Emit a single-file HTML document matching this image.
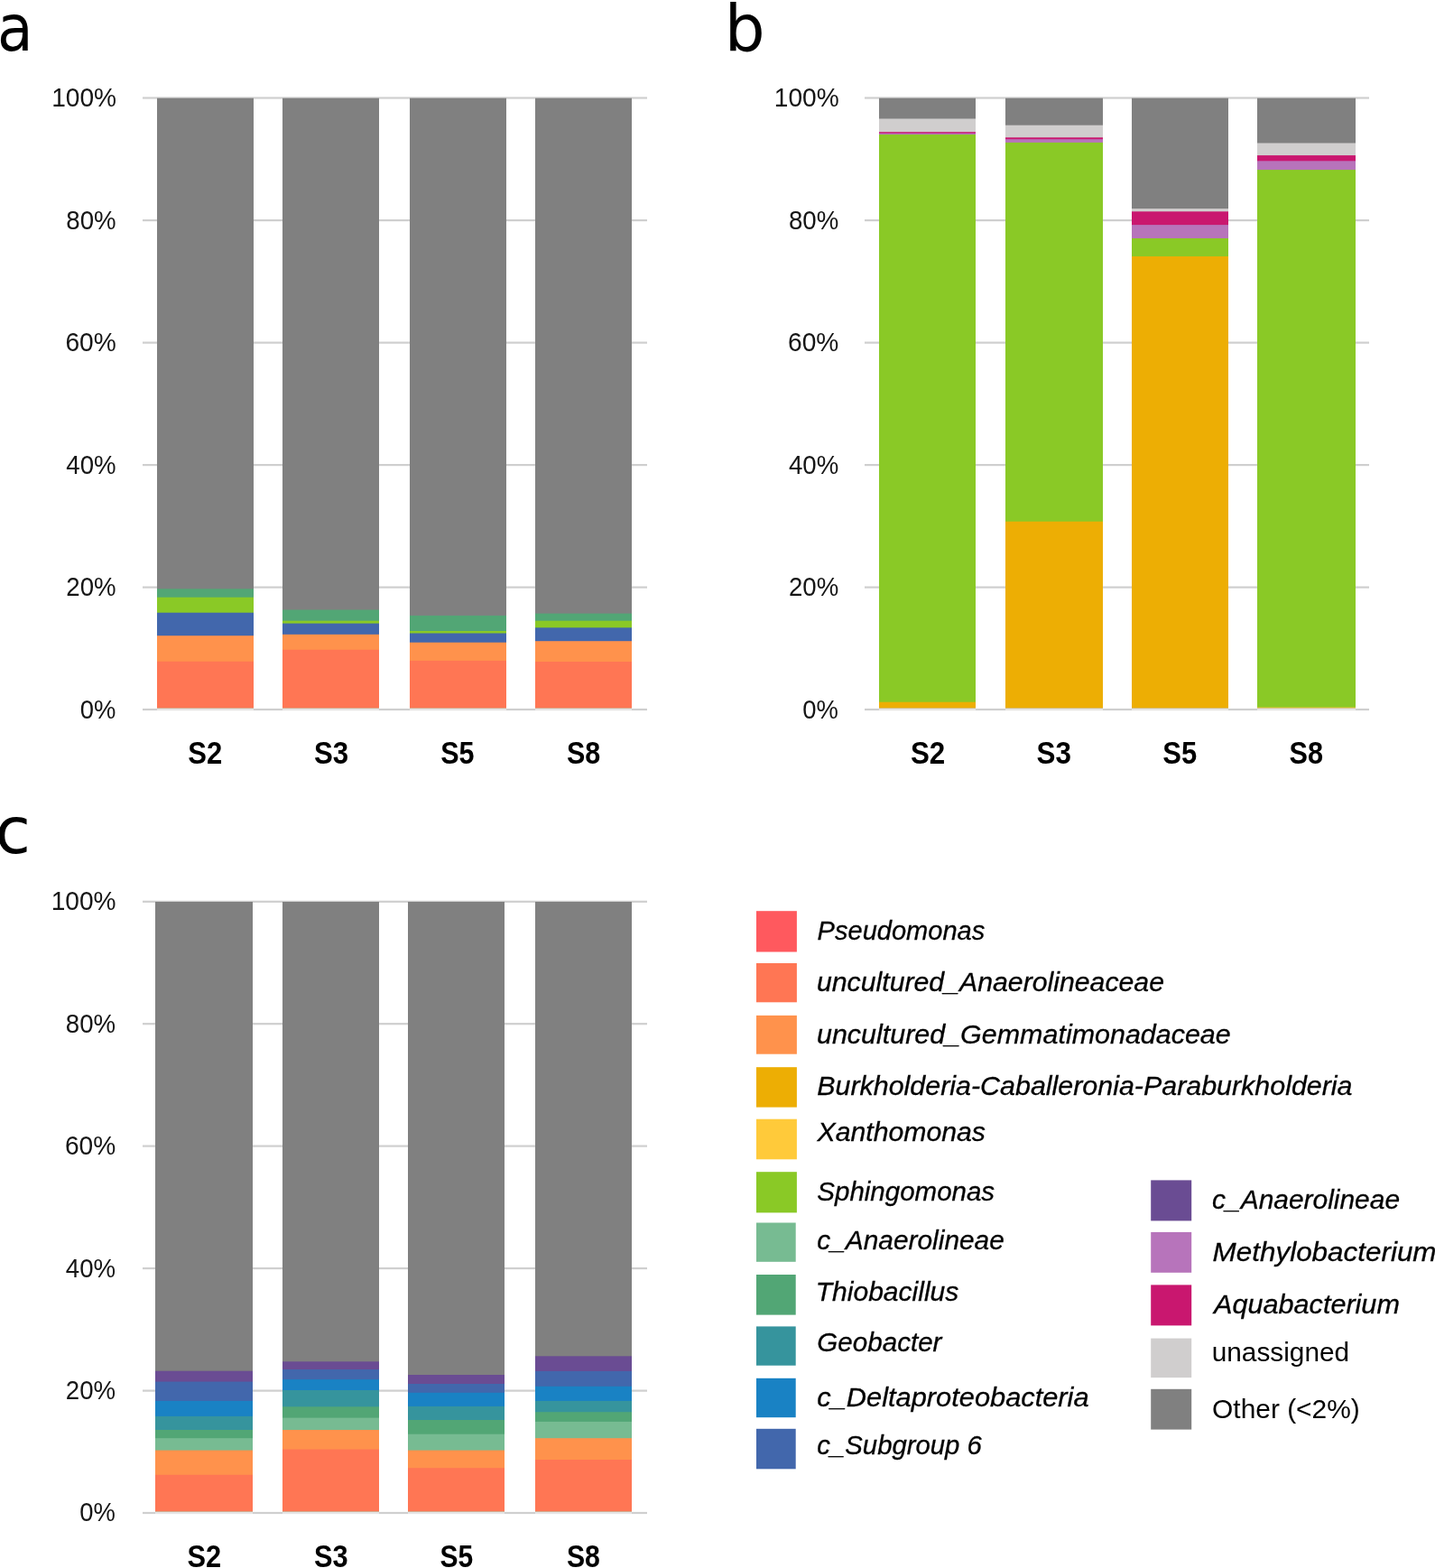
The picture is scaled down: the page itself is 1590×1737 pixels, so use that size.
<!DOCTYPE html>
<html lang="en">
<head>
<meta charset="utf-8">
<title>Relative abundance of bacterial genera (S2, S3, S5, S8)</title>
<style>
html, body { margin: 0; padding: 0; background: #ffffff; }
body { width: 1590px; height: 1737px; overflow: hidden; }
svg { display: block; }
text { font-family: "Liberation Sans", sans-serif; }
text.dj { font-family: "DejaVu Sans", sans-serif; }
</style>
</head>
<body>
<svg width="1590" height="1737" viewBox="0 0 1590 1737" role="img" aria-label="Stacked bar charts a, b and c of relative abundance for samples S2, S3, S5 and S8, with legend">
<rect x="0" y="0" width="1590" height="1737" fill="#ffffff"/>
<rect x="158.0" y="107.4" width="559.0" height="2.2" fill="#CFCFCF"/>
<rect x="158.0" y="243.0" width="559.0" height="2.2" fill="#CFCFCF"/>
<rect x="158.0" y="378.5" width="559.0" height="2.2" fill="#CFCFCF"/>
<rect x="158.0" y="514.0" width="559.0" height="2.2" fill="#CFCFCF"/>
<rect x="158.0" y="649.5" width="559.0" height="2.2" fill="#CFCFCF"/>
<rect x="158.0" y="784.9" width="559.0" height="2.2" fill="#CFCFCF"/>
<rect x="174.0" y="108.7" width="107.0" height="675.7" fill="#808080"/>
<rect x="174.0" y="652.3" width="107.0" height="132.1" fill="#52A675"/>
<rect x="174.0" y="661.7" width="107.0" height="122.7" fill="#8AC926"/>
<rect x="174.0" y="678.7" width="107.0" height="105.7" fill="#4267AC"/>
<rect x="174.0" y="704.2" width="107.0" height="80.2" fill="#FF924C"/>
<rect x="174.0" y="732.8" width="107.0" height="51.6" fill="#FF7654"/>
<rect x="174" y="784.4" width="107" height="3.2" fill="#ffffff" fill-opacity="0.45"/>
<rect x="313.0" y="108.7" width="107.0" height="675.7" fill="#808080"/>
<rect x="313.0" y="675.5" width="107.0" height="108.9" fill="#52A675"/>
<rect x="313.0" y="687.7" width="107.0" height="96.7" fill="#8AC926"/>
<rect x="313.0" y="690.6" width="107.0" height="93.8" fill="#4267AC"/>
<rect x="313.0" y="702.8" width="107.0" height="81.6" fill="#FF924C"/>
<rect x="313.0" y="719.8" width="107.0" height="64.6" fill="#FF7654"/>
<rect x="313" y="784.4" width="107" height="3.2" fill="#ffffff" fill-opacity="0.45"/>
<rect x="454.0" y="108.7" width="107.0" height="675.7" fill="#808080"/>
<rect x="454.0" y="681.9" width="107.0" height="102.5" fill="#52A675"/>
<rect x="454.0" y="699.0" width="107.0" height="85.4" fill="#8AC926"/>
<rect x="454.0" y="701.5" width="107.0" height="82.9" fill="#4267AC"/>
<rect x="454.0" y="711.7" width="107.0" height="72.7" fill="#FF924C"/>
<rect x="454.0" y="731.9" width="107.0" height="52.5" fill="#FF7654"/>
<rect x="454" y="784.4" width="107" height="3.2" fill="#ffffff" fill-opacity="0.45"/>
<rect x="593.0" y="108.7" width="107.0" height="675.7" fill="#808080"/>
<rect x="593.0" y="679.6" width="107.0" height="104.8" fill="#52A675"/>
<rect x="593.0" y="687.7" width="107.0" height="96.7" fill="#8AC926"/>
<rect x="593.0" y="695.3" width="107.0" height="89.1" fill="#4267AC"/>
<rect x="593.0" y="710.2" width="107.0" height="74.2" fill="#FF924C"/>
<rect x="593.0" y="733.0" width="107.0" height="51.4" fill="#FF7654"/>
<rect x="593" y="784.4" width="107" height="3.2" fill="#ffffff" fill-opacity="0.45"/>
<rect x="958.0" y="107.4" width="559.0" height="2.2" fill="#CFCFCF"/>
<rect x="958.0" y="243.0" width="559.0" height="2.2" fill="#CFCFCF"/>
<rect x="958.0" y="378.5" width="559.0" height="2.2" fill="#CFCFCF"/>
<rect x="958.0" y="514.0" width="559.0" height="2.2" fill="#CFCFCF"/>
<rect x="958.0" y="649.5" width="559.0" height="2.2" fill="#CFCFCF"/>
<rect x="958.0" y="784.9" width="559.0" height="2.2" fill="#CFCFCF"/>
<rect x="974.0" y="108.7" width="107.0" height="675.7" fill="#808080"/>
<rect x="974.0" y="131.5" width="107.0" height="652.9" fill="#D0CECE"/>
<rect x="974.0" y="146.2" width="107.0" height="638.2" fill="#C9176F"/>
<rect x="974.0" y="147.6" width="107.0" height="636.8" fill="#B774BB"/>
<rect x="974.0" y="149.0" width="107.0" height="635.4" fill="#8AC926"/>
<rect x="974.0" y="777.7" width="107.0" height="6.7" fill="#EDAE04"/>
<rect x="974" y="784.4" width="107" height="3.2" fill="#ffffff" fill-opacity="0.45"/>
<rect x="1114.0" y="108.7" width="108.0" height="675.7" fill="#808080"/>
<rect x="1114.0" y="138.7" width="108.0" height="645.7" fill="#D0CECE"/>
<rect x="1114.0" y="152.3" width="108.0" height="632.1" fill="#C9176F"/>
<rect x="1114.0" y="154.2" width="108.0" height="630.2" fill="#B774BB"/>
<rect x="1114.0" y="157.9" width="108.0" height="626.5" fill="#8AC926"/>
<rect x="1114.0" y="577.7" width="108.0" height="206.7" fill="#EDAE04"/>
<rect x="1114" y="784.4" width="108" height="3.2" fill="#ffffff" fill-opacity="0.45"/>
<rect x="1254.0" y="108.7" width="107.0" height="675.7" fill="#808080"/>
<rect x="1254.0" y="231.1" width="107.0" height="553.3" fill="#D0CECE"/>
<rect x="1254.0" y="234.3" width="107.0" height="550.1" fill="#C9176F"/>
<rect x="1254.0" y="249.1" width="107.0" height="535.3" fill="#B774BB"/>
<rect x="1254.0" y="264.0" width="107.0" height="520.4" fill="#8AC926"/>
<rect x="1254.0" y="284.0" width="107.0" height="500.4" fill="#EDAE04"/>
<rect x="1254" y="784.4" width="107" height="3.2" fill="#ffffff" fill-opacity="0.45"/>
<rect x="1393.0" y="108.7" width="109.0" height="675.7" fill="#808080"/>
<rect x="1393.0" y="158.5" width="109.0" height="625.9" fill="#D0CECE"/>
<rect x="1393.0" y="172.1" width="109.0" height="612.3" fill="#C9176F"/>
<rect x="1393.0" y="178.3" width="109.0" height="606.1" fill="#B774BB"/>
<rect x="1393.0" y="188.1" width="109.0" height="596.3" fill="#8AC926"/>
<rect x="1393.0" y="783.6" width="109.0" height="0.8" fill="#FFCA3A"/>
<rect x="1393" y="784.4" width="109" height="3.2" fill="#ffffff" fill-opacity="0.45"/>
<rect x="158.0" y="997.7" width="559.0" height="2.2" fill="#CFCFCF"/>
<rect x="158.0" y="1133.1" width="559.0" height="2.2" fill="#CFCFCF"/>
<rect x="158.0" y="1268.5" width="559.0" height="2.2" fill="#CFCFCF"/>
<rect x="158.0" y="1404.0" width="559.0" height="2.2" fill="#CFCFCF"/>
<rect x="158.0" y="1539.5" width="559.0" height="2.2" fill="#CFCFCF"/>
<rect x="158.0" y="1674.9" width="559.0" height="2.2" fill="#CFCFCF"/>
<rect x="172.0" y="999.0" width="108.0" height="675.4" fill="#808080"/>
<rect x="172.0" y="1518.7" width="108.0" height="155.7" fill="#6A4C93"/>
<rect x="172.0" y="1530.6" width="108.0" height="143.8" fill="#4267AC"/>
<rect x="172.0" y="1551.9" width="108.0" height="122.5" fill="#1982C4"/>
<rect x="172.0" y="1568.9" width="108.0" height="105.5" fill="#36949D"/>
<rect x="172.0" y="1584.0" width="108.0" height="90.4" fill="#52A675"/>
<rect x="172.0" y="1593.2" width="108.0" height="81.2" fill="#77BB92"/>
<rect x="172.0" y="1606.6" width="108.0" height="67.8" fill="#FF924C"/>
<rect x="172.0" y="1633.8" width="108.0" height="40.6" fill="#FF7654"/>
<rect x="172" y="1674.4" width="108" height="3.2" fill="#ffffff" fill-opacity="0.45"/>
<rect x="313.0" y="999.0" width="107.0" height="675.4" fill="#808080"/>
<rect x="313.0" y="1508.3" width="107.0" height="166.1" fill="#6A4C93"/>
<rect x="313.0" y="1517.0" width="107.0" height="157.4" fill="#4267AC"/>
<rect x="313.0" y="1528.1" width="107.0" height="146.3" fill="#1982C4"/>
<rect x="313.0" y="1540.0" width="107.0" height="134.4" fill="#36949D"/>
<rect x="313.0" y="1558.3" width="107.0" height="116.1" fill="#52A675"/>
<rect x="313.0" y="1570.6" width="107.0" height="103.8" fill="#77BB92"/>
<rect x="313.0" y="1584.0" width="107.0" height="90.4" fill="#FF924C"/>
<rect x="313.0" y="1605.5" width="107.0" height="68.9" fill="#FF7654"/>
<rect x="313" y="1674.4" width="107" height="3.2" fill="#ffffff" fill-opacity="0.45"/>
<rect x="452.0" y="999.0" width="107.0" height="675.4" fill="#808080"/>
<rect x="452.0" y="1523.0" width="107.0" height="151.4" fill="#6A4C93"/>
<rect x="452.0" y="1533.0" width="107.0" height="141.4" fill="#4267AC"/>
<rect x="452.0" y="1542.8" width="107.0" height="131.6" fill="#1982C4"/>
<rect x="452.0" y="1557.9" width="107.0" height="116.5" fill="#36949D"/>
<rect x="452.0" y="1573.0" width="107.0" height="101.4" fill="#52A675"/>
<rect x="452.0" y="1588.7" width="107.0" height="85.7" fill="#77BB92"/>
<rect x="452.0" y="1606.6" width="107.0" height="67.8" fill="#FF924C"/>
<rect x="452.0" y="1626.2" width="107.0" height="48.2" fill="#FF7654"/>
<rect x="452" y="1674.4" width="107" height="3.2" fill="#ffffff" fill-opacity="0.45"/>
<rect x="593.0" y="999.0" width="107.0" height="675.4" fill="#808080"/>
<rect x="593.0" y="1502.3" width="107.0" height="172.1" fill="#6A4C93"/>
<rect x="593.0" y="1518.9" width="107.0" height="155.5" fill="#4267AC"/>
<rect x="593.0" y="1535.8" width="107.0" height="138.6" fill="#1982C4"/>
<rect x="593.0" y="1551.9" width="107.0" height="122.5" fill="#36949D"/>
<rect x="593.0" y="1564.2" width="107.0" height="110.2" fill="#52A675"/>
<rect x="593.0" y="1574.9" width="107.0" height="99.5" fill="#77BB92"/>
<rect x="593.0" y="1593.2" width="107.0" height="81.2" fill="#FF924C"/>
<rect x="593.0" y="1617.0" width="107.0" height="57.4" fill="#FF7654"/>
<rect x="593" y="1674.4" width="107" height="3.2" fill="#ffffff" fill-opacity="0.45"/>
<rect x="838.0" y="1009.2" width="44.9" height="45.3" fill="#FF595E"/>
<rect x="838.0" y="1067.0" width="44.9" height="43.3" fill="#FF7654"/>
<rect x="838.0" y="1124.9" width="44.9" height="42.8" fill="#FF924C"/>
<rect x="838.0" y="1182.2" width="44.9" height="44.4" fill="#EDAE04"/>
<rect x="838.0" y="1239.7" width="44.9" height="44.6" fill="#FFCA3A"/>
<rect x="838.0" y="1298.2" width="44.9" height="45.2" fill="#8AC926"/>
<rect x="838.0" y="1354.5" width="43.7" height="43.3" fill="#77BB92"/>
<rect x="838.0" y="1412.0" width="43.7" height="44.6" fill="#52A675"/>
<rect x="838.0" y="1469.4" width="43.7" height="43.3" fill="#36949D"/>
<rect x="838.0" y="1526.8" width="43.7" height="43.4" fill="#1982C4"/>
<rect x="838.0" y="1582.8" width="43.7" height="44.5" fill="#4267AC"/>
<rect x="1275.2" y="1307.4" width="45.0" height="45.0" fill="#6A4C93"/>
<rect x="1275.2" y="1364.9" width="45.0" height="44.9" fill="#B774BB"/>
<rect x="1275.2" y="1423.4" width="45.0" height="45.0" fill="#C9176F"/>
<rect x="1275.2" y="1482.6" width="45.0" height="43.5" fill="#D0CECE"/>
<rect x="1275.2" y="1538.8" width="45.0" height="44.8" fill="#808080"/>
<text x="57.19" y="118.2" font-size="29.5" fill="#151515" textLength="71.89" lengthAdjust="spacingAndGlyphs">100%</text>
<text x="73.36" y="253.8" font-size="29.5" fill="#151515" textLength="55.32" lengthAdjust="spacingAndGlyphs">80%</text>
<text x="72.39" y="389.3" font-size="29.5" fill="#151515" textLength="56.31" lengthAdjust="spacingAndGlyphs">60%</text>
<text x="73.36" y="524.8" font-size="29.5" fill="#151515" textLength="55.32" lengthAdjust="spacingAndGlyphs">40%</text>
<text x="73.36" y="660.3" font-size="29.5" fill="#151515" textLength="55.32" lengthAdjust="spacingAndGlyphs">20%</text>
<text x="88.67" y="795.7" font-size="29.5" fill="#151515" textLength="39.62" lengthAdjust="spacingAndGlyphs">0%</text>
<text x="857.79" y="118.2" font-size="29.5" fill="#151515" textLength="71.89" lengthAdjust="spacingAndGlyphs">100%</text>
<text x="873.96" y="253.8" font-size="29.5" fill="#151515" textLength="55.32" lengthAdjust="spacingAndGlyphs">80%</text>
<text x="872.99" y="389.3" font-size="29.5" fill="#151515" textLength="56.31" lengthAdjust="spacingAndGlyphs">60%</text>
<text x="873.96" y="524.8" font-size="29.5" fill="#151515" textLength="55.32" lengthAdjust="spacingAndGlyphs">40%</text>
<text x="873.96" y="660.3" font-size="29.5" fill="#151515" textLength="55.32" lengthAdjust="spacingAndGlyphs">20%</text>
<text x="889.27" y="795.7" font-size="29.5" fill="#151515" textLength="39.62" lengthAdjust="spacingAndGlyphs">0%</text>
<text x="56.69" y="1008.2" font-size="29.5" fill="#151515" textLength="71.89" lengthAdjust="spacingAndGlyphs">100%</text>
<text x="72.86" y="1143.6" font-size="29.5" fill="#151515" textLength="55.32" lengthAdjust="spacingAndGlyphs">80%</text>
<text x="71.89" y="1279.0" font-size="29.5" fill="#151515" textLength="56.31" lengthAdjust="spacingAndGlyphs">60%</text>
<text x="72.86" y="1414.5" font-size="29.5" fill="#151515" textLength="55.32" lengthAdjust="spacingAndGlyphs">40%</text>
<text x="72.86" y="1550.0" font-size="29.5" fill="#151515" textLength="55.32" lengthAdjust="spacingAndGlyphs">20%</text>
<text x="88.17" y="1685.4" font-size="29.5" fill="#151515" textLength="39.62" lengthAdjust="spacingAndGlyphs">0%</text>
<text x="208.21" y="846.0" font-size="35" font-weight="bold" fill="#000" textLength="38.00" lengthAdjust="spacingAndGlyphs">S2</text>
<text x="347.91" y="846.0" font-size="35" font-weight="bold" fill="#000" textLength="38.21" lengthAdjust="spacingAndGlyphs">S3</text>
<text x="488.23" y="846.0" font-size="35" font-weight="bold" fill="#000" textLength="37.38" lengthAdjust="spacingAndGlyphs">S5</text>
<text x="628.03" y="846.0" font-size="35" font-weight="bold" fill="#000" textLength="37.28" lengthAdjust="spacingAndGlyphs">S8</text>
<text x="1008.90" y="846.0" font-size="35" font-weight="bold" fill="#000" textLength="38.32" lengthAdjust="spacingAndGlyphs">S2</text>
<text x="1148.50" y="846.0" font-size="35" font-weight="bold" fill="#000" textLength="38.42" lengthAdjust="spacingAndGlyphs">S3</text>
<text x="1288.31" y="846.0" font-size="35" font-weight="bold" fill="#000" textLength="37.90" lengthAdjust="spacingAndGlyphs">S5</text>
<text x="1428.52" y="846.0" font-size="35" font-weight="bold" fill="#000" textLength="37.49" lengthAdjust="spacingAndGlyphs">S8</text>
<text x="207.52" y="1736.2" font-size="35" font-weight="bold" fill="#000" textLength="37.67" lengthAdjust="spacingAndGlyphs">S2</text>
<text x="347.92" y="1736.2" font-size="35" font-weight="bold" fill="#000" textLength="37.67" lengthAdjust="spacingAndGlyphs">S3</text>
<text x="487.54" y="1736.2" font-size="35" font-weight="bold" fill="#000" textLength="36.76" lengthAdjust="spacingAndGlyphs">S5</text>
<text x="627.94" y="1736.2" font-size="35" font-weight="bold" fill="#000" textLength="36.96" lengthAdjust="spacingAndGlyphs">S8</text>
<text x="-3.09" y="56.4" font-size="72" class="dj" fill="#000" textLength="39.58" lengthAdjust="spacingAndGlyphs">a</text>
<text x="802.72" y="56.4" font-size="72" class="dj" fill="#000" textLength="44.92" lengthAdjust="spacingAndGlyphs">b</text>
<text x="-5.49" y="945.4" font-size="72" class="dj" fill="#000" textLength="39.47" lengthAdjust="spacingAndGlyphs">c</text>
<text x="905.62" y="1040.8" font-size="29.5" font-style="italic" fill="#000000" stroke="#000000" stroke-width="0.3" textLength="185.58" lengthAdjust="spacingAndGlyphs">Pseudomonas</text>
<text x="904.97" y="1098.2" font-size="29.5" font-style="italic" fill="#000000" stroke="#000000" stroke-width="0.3" textLength="385.03" lengthAdjust="spacingAndGlyphs">uncultured_Anaerolineaceae</text>
<text x="904.97" y="1156.0" font-size="29.5" font-style="italic" fill="#000000" stroke="#000000" stroke-width="0.3" textLength="458.78" lengthAdjust="spacingAndGlyphs">uncultured_Gemmatimonadaceae</text>
<text x="905.27" y="1213.4" font-size="29.5" font-style="italic" fill="#000000" stroke="#000000" stroke-width="0.3" textLength="593.26" lengthAdjust="spacingAndGlyphs">Burkholderia-Caballeronia-Paraburkholderia</text>
<text x="905.50" y="1264.3" font-size="29.5" font-style="italic" fill="#000000" stroke="#000000" stroke-width="0.3" textLength="186.47" lengthAdjust="spacingAndGlyphs">Xanthomonas</text>
<text x="905.30" y="1329.7" font-size="29.5" font-style="italic" fill="#000000" stroke="#000000" stroke-width="0.3" textLength="196.81" lengthAdjust="spacingAndGlyphs">Sphingomonas</text>
<text x="905.29" y="1384.0" font-size="29.5" font-style="italic" fill="#000000" stroke="#000000" stroke-width="0.3" textLength="207.56" lengthAdjust="spacingAndGlyphs">c_Anaerolineae</text>
<text x="903.75" y="1441.1" font-size="29.5" font-style="italic" fill="#000000" stroke="#000000" stroke-width="0.3" textLength="158.55" lengthAdjust="spacingAndGlyphs">Thiobacillus</text>
<text x="905.30" y="1497.2" font-size="29.5" font-style="italic" fill="#000000" stroke="#000000" stroke-width="0.3" textLength="138.15" lengthAdjust="spacingAndGlyphs">Geobacter</text>
<text x="905.26" y="1557.8" font-size="29.5" font-style="italic" fill="#000000" stroke="#000000" stroke-width="0.3" textLength="301.34" lengthAdjust="spacingAndGlyphs">c_Deltaproteobacteria</text>
<text x="905.31" y="1610.6" font-size="29.5" font-style="italic" fill="#000000" stroke="#000000" stroke-width="0.3" textLength="182.59" lengthAdjust="spacingAndGlyphs">c_Subgroup 6</text>
<text x="1343.09" y="1339.2" font-size="29.5" font-style="italic" fill="#000000" stroke="#000000" stroke-width="0.3" textLength="207.96" lengthAdjust="spacingAndGlyphs">c_Anaerolineae</text>
<text x="1343.64" y="1396.9" font-size="29.5" font-style="italic" fill="#000000" stroke="#000000" stroke-width="0.3" textLength="247.91" lengthAdjust="spacingAndGlyphs">Methylobacterium</text>
<text x="1345.14" y="1455.4" font-size="29.5" font-style="italic" fill="#000000" stroke="#000000" stroke-width="0.3" textLength="205.74" lengthAdjust="spacingAndGlyphs">Aquabacterium</text>
<text x="1342.71" y="1508.0" font-size="30" fill="#000000" textLength="152.44" lengthAdjust="spacingAndGlyphs">unassigned</text>
<text x="1343.10" y="1570.9" font-size="30" fill="#000000" textLength="163.62" lengthAdjust="spacingAndGlyphs">Other (&lt;2%)</text>
</svg>
</body>
</html>
